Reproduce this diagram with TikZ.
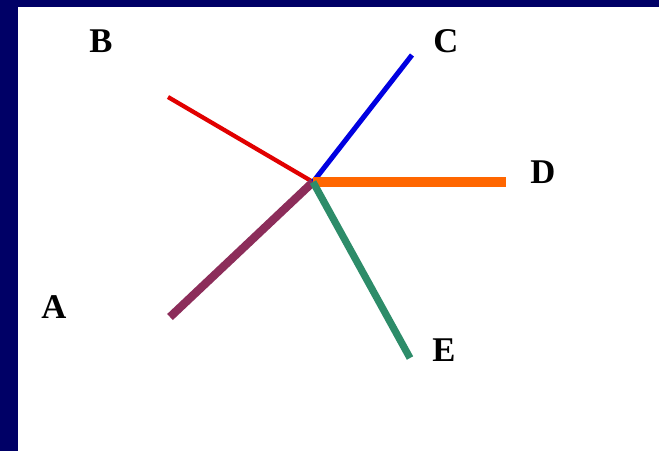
\documentclass[tikz,border=0pt]{standalone}
\usepackage{fontspec}
\setmainfont{Liberation Serif}
\usepackage{tikz}
\usetikzlibrary{positioning}

\definecolor{navyframe}{RGB}{0,0,102}
\definecolor{spokered}{RGB}{225,0,0}
\definecolor{spokeblue}{RGB}{0,0,225}
\definecolor{spokeorange}{RGB}{255,102,0}
\definecolor{spokeplum}{RGB}{140,45,90}
\definecolor{spokegreen}{RGB}{45,140,105}

\begin{document}
\begin{tikzpicture}[
    x=0.75pt, y=-0.75pt,
    lbl/.style={font=\fontsize{26}{30}\selectfont\bfseries, inner sep=0pt},
    spoke/.style={line cap=butt},
]

% ── Frame ──
\fill[navyframe] (0,0) rectangle (659,451);
\fill[white] (18,7) rectangle (659,451);
\useasboundingbox (0,0) rectangle (659,451);

% ── Hub and spoke ends ──
\coordinate (O) at (313,182);
\coordinate (Bend) at (168,97);
\coordinate (Cend) at (412,55);
\coordinate (Dend) at (506,182);
\coordinate (Aend) at (170,317);
\coordinate (Eend) at (410,358);

% ── Labels ──
\node[lbl] (B) at (101,41) {B};
\node[lbl] (C) at (446,41) {C};
\node[lbl] (D) at (543,172) {D};
\node[lbl] (A) at (54,307) {A};
\node[lbl] (E) at (444,350) {E};

% ── Spokes ──
\draw[spoke, spokered, line width=3.2pt] (O) -- (Bend);
\draw[spoke, spokeblue, line width=3.8pt] (O) -- (Cend);
\draw[spoke, spokeorange, line width=6.8pt] (O) -- (Dend);
\draw[spoke, spokeplum, line width=6.2pt] (O) -- (Aend);
\draw[spoke, spokegreen, line width=5.4pt] (O) -- (Eend);

\end{tikzpicture}
\end{document}
